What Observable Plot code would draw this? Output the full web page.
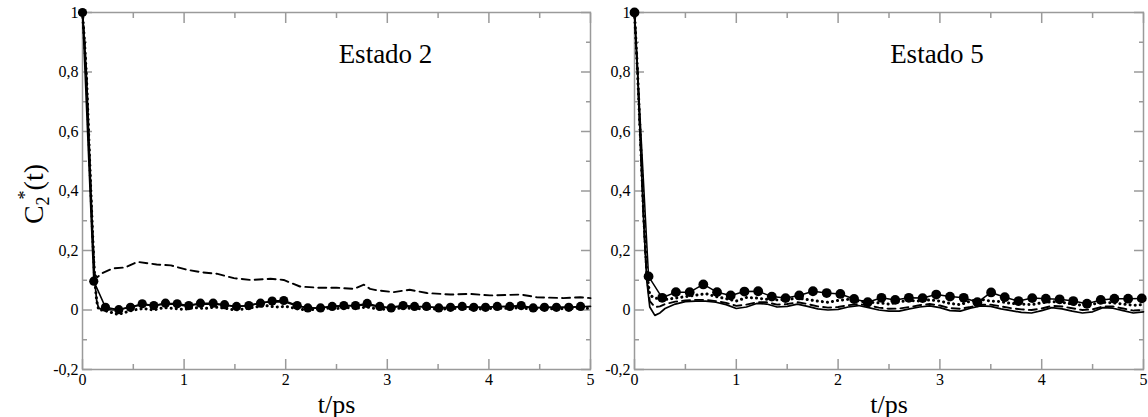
<!DOCTYPE html>
<html><head><meta charset="utf-8">
<script src="https://cdn.jsdelivr.net/npm/d3@7"></script>
<script src="https://cdn.jsdelivr.net/npm/@observablehq/plot@0.6"></script>
<style>
body{margin:0;background:#fff;width:1148px;height:417px;overflow:hidden;position:relative}
#left{position:absolute;left:0;top:0;z-index:2}
#right{position:absolute;left:548px;top:0;z-index:1}
svg{background:transparent}
</style></head><body><div id="left"></div><div id="right"></div>
<script>
// ---- tick values ----
const xMajor = [0, 1, 2, 3, 4, 5];
const xMinor = [0.5, 1.5, 2.5, 3.5, 4.5];
const yMajor = [-0.2, 0, 0.2, 0.4, 0.6, 0.8, 1];
const yMinor = [-0.1, 0.1, 0.3, 0.5, 0.7, 0.9];
const panelTitles = ["Estado 2", "Estado 5"];
const xLabel = "t/ps";

// ---- Estado 2 (left) : [t, C2*(t)] ----
const leftSolid = [[0,1],[0.02,0.9],[0.04,0.78],[0.06,0.6],[0.08,0.42],[0.1,0.25],[0.12,0.1],[0.14,0.03],[0.16,0.005],
 [0.2,0.002],[0.3,0.0],[0.4,0.005],[0.5,0.012],[0.6,0.018],[0.7,0.015],[0.8,0.02],[0.9,0.02],[1.0,0.015],[1.1,0.018],
 [1.2,0.02],[1.3,0.02],[1.4,0.016],[1.5,0.012],[1.6,0.014],[1.7,0.02],[1.8,0.026],[1.9,0.028],[2.0,0.026],[2.1,0.015],
 [2.2,0.008],[2.3,0.006],[2.4,0.01],[2.5,0.013],[2.6,0.014],[2.7,0.015],[2.8,0.018],[2.9,0.012],[3.0,0.008],[3.1,0.012],
 [3.2,0.013],[3.3,0.011],[3.4,0.01],[3.5,0.008],[3.6,0.009],[3.7,0.011],[3.8,0.01],[3.9,0.009],[4.0,0.01],[4.1,0.011],
 [4.2,0.012],[4.3,0.013],[4.4,0.009],[4.5,0.008],[4.6,0.009],[4.7,0.009],[4.8,0.009],[4.9,0.011],[5.0,0.012]];
const leftDashed = [[0,1],[0.02,0.9],[0.04,0.78],[0.06,0.6],[0.08,0.42],[0.1,0.25],[0.12,0.12],[0.145,0.11],[0.2,0.125],
 [0.3,0.14],[0.42,0.143],[0.54,0.162],[0.73,0.153],[0.87,0.15],[1.03,0.135],[1.19,0.126],[1.32,0.122],[1.49,0.107],
 [1.65,0.101],[1.85,0.105],[1.98,0.101],[2.14,0.079],[2.31,0.075],[2.5,0.075],[2.67,0.071],[2.77,0.085],[2.83,0.071],
 [2.9,0.066],[3.06,0.06],[3.22,0.068],[3.39,0.057],[3.62,0.052],[3.82,0.054],[4.01,0.049],[4.31,0.052],[4.47,0.043],
 [4.73,0.04],[4.9,0.043],[5.0,0.04]];
const leftDotted = [[0,1],[0.02,0.9],[0.04,0.78],[0.06,0.6],[0.08,0.42],[0.1,0.25],[0.12,0.1],[0.14,0.03],[0.16,0.0],
 [0.2,0.0],[0.3,-0.01],[0.35,-0.015],[0.4,-0.01],[0.5,0.0],[0.6,0.005],[0.7,0.0],[0.8,0.008],[0.9,0.005],[1.0,0.002],
 [1.1,0.008],[1.2,0.005],[1.3,0.01],[1.4,0.006],[1.5,0.0],[1.6,0.004],[1.7,0.01],[1.8,0.015],[1.9,0.01],[2.0,0.012],
 [2.1,0.005],[2.2,0.0],[2.3,0.002],[2.4,0.006],[2.5,0.005],[2.6,0.008],[2.7,0.006],[2.8,0.01],[2.9,0.004],[3.0,0.002],
 [3.1,0.006],[3.2,0.006],[3.3,0.004],[3.4,0.005],[3.5,0.003],[3.6,0.004],[3.7,0.006],[3.8,0.004],[3.9,0.003],[4.0,0.005],
 [4.1,0.006],[4.2,0.006],[4.3,0.007],[4.4,0.004],[4.5,0.003],[4.6,0.004],[4.7,0.004],[4.8,0.005],[4.9,0.006],[5.0,0.006]];
const leftCircles = [[0,1],[0.111,0.097],[0.226,0.009],[0.357,0.001],[0.472,0.009],[0.588,0.021],[0.702,0.015],
 [0.817,0.023],[0.932,0.021],[1.046,0.015],[1.161,0.023],[1.286,0.023],[1.398,0.018],[1.516,0.012],[1.637,0.015],
 [1.752,0.023],[1.867,0.03],[1.981,0.032],[2.113,0.015],[2.218,0.007],[2.343,0.007],[2.458,0.012],[2.572,0.015],
 [2.687,0.015],[2.802,0.022],[2.926,0.012],[3.038,0.007],[3.156,0.015],[3.268,0.012],[3.386,0.012],[3.507,0.007],
 [3.622,0.009],[3.737,0.012],[3.851,0.009],[3.967,0.009],[4.082,0.012],[4.206,0.012],[4.318,0.015],[4.436,0.007],
 [4.547,0.009],[4.665,0.009],[4.786,0.009],[4.902,0.012]];

// ---- Estado 5 (right) : [t, C2*(t)] ----
const rightSolid = [[0,1],[0.03,0.8],[0.06,0.55],[0.09,0.3],[0.12,0.1],[0.15,0.01],[0.2,-0.018],[0.25,-0.01],[0.3,0.005],
 [0.4,0.02],[0.5,0.028],[0.6,0.03],[0.7,0.03],[0.8,0.026],[0.9,0.018],[1.0,0.005],[1.1,0.01],[1.2,0.022],[1.3,0.02],
 [1.4,0.01],[1.5,0.012],[1.6,0.02],[1.7,0.012],[1.8,0.004],[1.9,0.0],[2.0,0.002],[2.1,0.01],[2.2,0.015],[2.3,0.008],
 [2.4,0.0],[2.5,-0.004],[2.6,-0.004],[2.7,0.004],[2.8,0.01],[2.9,0.014],[3.0,0.008],[3.1,-0.002],[3.2,-0.004],[3.3,0.006],
 [3.4,0.014],[3.5,0.012],[3.6,0.004],[3.7,-0.002],[3.8,-0.008],[3.9,-0.01],[4.0,-0.002],[4.1,0.008],[4.2,0.004],
 [4.3,-0.004],[4.4,-0.01],[4.5,-0.006],[4.6,0.008],[4.7,0.006],[4.8,-0.002],[4.9,-0.01],[5.0,-0.006]];
const rightDashed = [[0,1],[0.03,0.8],[0.06,0.55],[0.09,0.3],[0.12,0.11],[0.15,0.03],[0.2,0.01],[0.25,0.012],[0.3,0.02],
 [0.4,0.028],[0.5,0.032],[0.6,0.034],[0.7,0.034],[0.8,0.03],[0.9,0.024],[1.0,0.014],[1.1,0.018],[1.2,0.026],[1.3,0.026],
 [1.4,0.018],[1.5,0.02],[1.6,0.026],[1.7,0.02],[1.8,0.012],[1.9,0.008],[2.0,0.01],[2.1,0.016],[2.2,0.02],[2.3,0.015],
 [2.4,0.008],[2.5,0.004],[2.6,0.005],[2.7,0.01],[2.8,0.016],[2.9,0.02],[3.0,0.015],[3.1,0.006],[3.2,0.004],[3.3,0.01],
 [3.4,0.018],[3.5,0.018],[3.6,0.012],[3.7,0.006],[3.8,0.002],[3.9,0.0],[4.0,0.005],[4.1,0.014],[4.2,0.012],[4.3,0.006],
 [4.4,0.0],[4.5,0.002],[4.6,0.012],[4.7,0.012],[4.8,0.005],[4.9,-0.002],[5.0,0.0]];
const rightDotted = [[0,1],[0.03,0.8],[0.06,0.56],[0.09,0.32],[0.12,0.13],[0.15,0.05],[0.2,0.04],[0.3,0.035],[0.4,0.04],
 [0.5,0.045],[0.6,0.05],[0.7,0.055],[0.8,0.045],[0.9,0.038],[1.0,0.03],[1.1,0.042],[1.2,0.04],[1.3,0.036],[1.4,0.034],
 [1.5,0.035],[1.6,0.04],[1.7,0.035],[1.8,0.03],[1.9,0.026],[2.0,0.032],[2.1,0.036],[2.2,0.03],[2.3,0.026],[2.4,0.024],
 [2.5,0.02],[2.6,0.028],[2.7,0.032],[2.8,0.03],[2.9,0.034],[3.0,0.03],[3.1,0.022],[3.2,0.018],[3.3,0.03],[3.4,0.036],
 [3.5,0.03],[3.6,0.028],[3.7,0.022],[3.8,0.02],[3.9,0.018],[4.0,0.024],[4.1,0.028],[4.2,0.026],[4.3,0.02],[4.4,0.016],
 [4.5,0.02],[4.6,0.026],[4.7,0.024],[4.8,0.02],[4.9,0.016],[5.0,0.018]];
const rightCircles = [[0,1],[0.138,0.113],[0.272,0.041],[0.407,0.06],[0.542,0.06],[0.676,0.086],[0.811,0.06],
 [0.945,0.049],[1.08,0.062],[1.215,0.063],[1.349,0.045],[1.484,0.04],[1.618,0.049],[1.753,0.063],[1.888,0.057],
 [2.022,0.054],[2.157,0.037],[2.291,0.026],[2.426,0.041],[2.561,0.034],[2.695,0.041],[2.83,0.04],[2.964,0.052],
 [3.099,0.045],[3.234,0.041],[3.368,0.026],[3.503,0.059],[3.637,0.043],[3.772,0.03],[3.907,0.04],[4.041,0.038],
 [4.176,0.036],[4.31,0.03],[4.445,0.021],[4.58,0.034],[4.714,0.038],[4.849,0.038],[4.983,0.039]];

const fmt = d => String(d).replace(".", ",");
const gray = "#9a9a9a";
const serif = "'Liberation Serif','DejaVu Serif',serif";

function panel({width, ml, mr, title, solid, dashed, dotted, circles, r, titleDx}) {
  const tickX = (vals, anchor, size) => Plot.axisX(vals, {anchor, tickSize: size, stroke: gray, strokeWidth: 1.5, tickFormat: () => "", label: null});
  const tickY = (vals, anchor, size) => Plot.axisY(vals, {anchor, tickSize: size, stroke: gray, strokeWidth: 1.5, tickFormat: () => "", label: null});
  return Plot.plot({
    width, height: 417,
    marginLeft: ml, marginRight: mr, marginTop: 12, marginBottom: 48,
    x: {domain: [0, 5]},
    y: {domain: [-0.2, 1]},
    style: {fontFamily: serif, background: "transparent", overflow: "visible", color: "black"},
    marks: [
      tickX(xMajor, "bottom", -10),
      tickX(xMinor, "bottom", -5),
      tickX(xMajor, "top", -10),
      tickX(xMinor, "top", -5),
      tickY(yMajor, "left", -10),
      tickY(yMinor, "left", -5),
      tickY(yMajor, "right", -10),
      tickY(yMinor, "right", -5),
      Plot.frame({stroke: gray, strokeWidth: 1.5}),
      Plot.axisX(xMajor, {anchor: "bottom", tickSize: 0, tickPadding: 4, fontSize: 16, fontFamily: serif, fill: "black", tickFormat: fmt, label: null}),
      Plot.axisY(yMajor, {anchor: "left", tickSize: 0, tickPadding: 4, fontSize: 16, fontFamily: serif, fill: "black", tickFormat: fmt, label: null}),
      Plot.line(dashed, {x: d => d[0], y: d => d[1], stroke: "black", strokeWidth: 1.9, strokeDasharray: "8,5"}),
      Plot.line(solid, {x: d => d[0], y: d => d[1], stroke: "black", strokeWidth: 1.7}),
      Plot.line(dotted, {x: d => d[0], y: d => d[1], stroke: "black", strokeWidth: 3, strokeDasharray: "0.1,5", strokeLinecap: "round"}),
      Plot.line(circles, {x: d => d[0], y: d => d[1], stroke: "black", strokeWidth: 1.5}),
      Plot.dot(circles, {x: d => d[0], y: d => d[1], r, fill: "black", stroke: "none"}),
      Plot.text([title], {frameAnchor: "top", dx: titleDx, dy: 42, lineAnchor: "middle", fontSize: 27, fontFamily: serif, fill: "black"}),
      Plot.text([xLabel], {frameAnchor: "bottom", dy: 35, lineAnchor: "middle", fontSize: 26, fontFamily: serif, fill: "black"})
    ]
  });
}

const left = panel({width: 600, ml: 82, mr: 10, title: panelTitles[0], solid: leftSolid, dashed: leftDashed,
  dotted: leftDotted, circles: leftCircles, r: 4.6, titleDx: 49});
const right = panel({width: 600, ml: 86, mr: 5, title: panelTitles[1], solid: rightSolid, dashed: rightDashed,
  dotted: rightDotted, circles: rightCircles, r: 4.9, titleDx: 48});
document.getElementById("left").append(left);
document.getElementById("right").append(right);

// y-axis title C2*(t)
const svg = d3.select(left);
const t = svg.append("text")
  .attr("transform", "translate(43,194) rotate(-90)")
  .attr("text-anchor", "middle")
  .attr("font-family", serif).attr("font-size", 28).attr("fill", "black");
t.append("tspan").text("C");
t.append("tspan").attr("font-size", 18).attr("dy", 6).text("2");
t.append("tspan").attr("font-size", 18).attr("dx", -3).attr("dy", -18).text("*");
t.append("tspan").attr("dy", 12).text("(t)");
</script></body></html>
